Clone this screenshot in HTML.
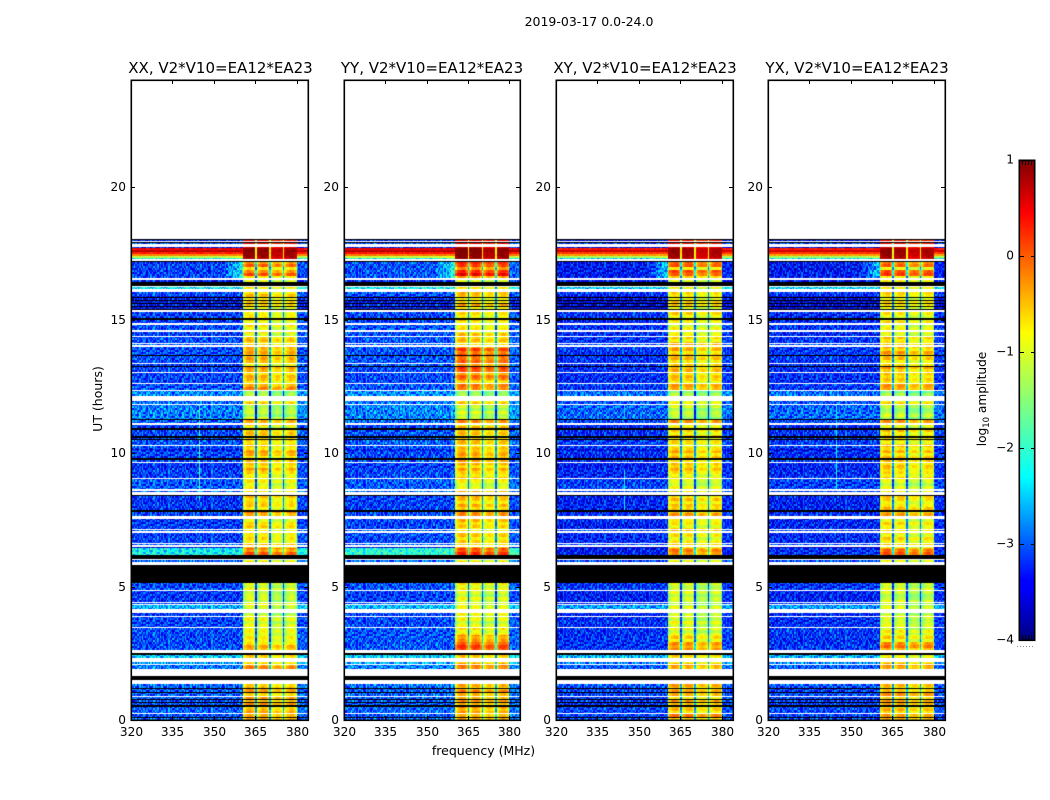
<!DOCTYPE html>
<html>
<head>
<meta charset="utf-8">
<title>2019-03-17 spectrogram</title>
<style>
  html,body{margin:0;padding:0;background:#fff;}
  #stage{position:relative;width:1050px;height:800px;overflow:hidden;background:#fff;}
  canvas,svg{position:absolute;left:0;top:0;}
  text{font-family:"DejaVu Sans","Liberation Sans",sans-serif;fill:#000;}
</style>
</head>
<body>
<div id="stage">
  <canvas id="heat" width="1050" height="800"></canvas>
  <svg id="axes" width="1050" height="800" viewBox="0 0 1050 800">
    <defs>
      <linearGradient id="jetGrad" x1="0" y1="1" x2="0" y2="0">
        <stop offset="0" stop-color="rgb(0,0,128)"/>
        <stop offset="0.11" stop-color="rgb(0,0,255)"/>
        <stop offset="0.125" stop-color="rgb(0,0,255)"/>
        <stop offset="0.34" stop-color="rgb(0,255,255)"/>
        <stop offset="0.64" stop-color="rgb(255,255,0)"/>
        <stop offset="0.89" stop-color="rgb(255,0,0)"/>
        <stop offset="1" stop-color="rgb(128,0,0)"/>
      </linearGradient>
    </defs>
    <text x="589" y="26" text-anchor="middle" font-size="12.5">2019-03-17 0.0-24.0</text>
    <text x="220.5" y="73" text-anchor="middle" font-size="15">XX, V2*V10=EA12*EA23</text>
    <text x="432" y="73" text-anchor="middle" font-size="15">YY, V2*V10=EA12*EA23</text>
    <text x="645" y="73" text-anchor="middle" font-size="15">XY, V2*V10=EA12*EA23</text>
    <text x="857" y="73" text-anchor="middle" font-size="15">YX, V2*V10=EA12*EA23</text>
    <text x="483.5" y="755" text-anchor="middle" font-size="12.5">frequency (MHz)</text>
    <text transform="translate(102,399) rotate(-90)" text-anchor="middle" font-size="12.5">UT (hours)</text>
    <text transform="translate(986,399) rotate(-90)" text-anchor="middle" font-size="12.15">log<tspan font-size="8.5" dy="3">10</tspan><tspan dy="-3"> amplitude</tspan></text>
    <rect x="1019.3" y="160.3" width="15.4" height="480" fill="url(#jetGrad)" stroke="#000" stroke-width="1.6"/>
    <line x1="1017" y1="646.5" x2="1035" y2="646.5" stroke="#888" stroke-width="1" stroke-dasharray="1 2"/>
  </svg>
</div>
<script>
// ---- Chart data ----
// Time axis: samples of 0.0375 h. Baseline levels are log10 amplitude for the XX panel.
const W = 'white';   // flagged, no data drawn
const K = 'black';   // below colour-scale minimum
const polarizations = ['XX', 'YY', 'XY', 'YX'];
const freqTicks = [320, 335, 350, 365, 380];
const hourTicks = [0, 5, 10, 15, 20];
const colorTicks = [1, 0, -1, -2, -3, -4];
// [first sample, last sample, continuum level | flag, band level, edge ramp]
const timeRuns = [
  [0,2,-3.0,-.55],[2,3,K],[3,6,-3.05,-.35],[6,7,W],[7,13,-3.0,-.6],[13,15,K],[15,17,-3.05,-.45],[17,18,K],
  [18,20,-3.05,-.5],[20,21,K],[21,23,-3.05,-.6],[23,24,W],[24,27,-3.0,-.5],[27,28,K],[28,31,-3.05,-.45],[31,32,K],
  [32,36,-2.95,-.55],[36,40,W],[40,44,K],[44,51,W],[51,55,-2.9,-.45],[55,56,W],[56,58,-2.7,-.65],[58,62,W],
  [62,65,-2.5,-.8],[65,67,K],[67,70,W],[70,78,-3.1,-.55],[78,92,-3.1,-.95],[92,93,W],[93,103,-3.15,-1.05],
  [103,104,W],[104,107,-3.2,-1.1],[107,111,W],[111,115,-2.6,-1.1],[115,116,W],[116,117,-3.1,-1.1],[117,118,W],
  [118,129,-3.2,-1.15],[129,130,W],[130,137,-3.1,-1.05],[137,155,K],[155,158,W],[158,160,-3,-.9],[160,161,W],
  [161,165,K],[165,172,-2.25,-.15],[172,173,-3.6,-.7],[173,175,W],[175,176,-3,-.7],[176,177,W],
  [177,187,-3.15,-.8],[187,189,W],[189,190,-3,-.7],[190,191,W],[191,201,-3.2,-.8],[201,204,W],[204,208,-3.15,-.45],
  [208,210,K],[210,224,-3.2,-.7],[224,225,K],[225,228,W],[228,229,-3,-.8],[229,231,W],[231,241,-3.05,-1.0],
  [241,242,W],[242,250,-3.15,-.75],[250,257,-3.2,-.6],[257,258,W],[258,260,-3.1,-.7],[260,262,K],[262,269,-3.15,-.55],
  [269,271,-3.4,-.7],[271,274,-3.1,-.7],[274,275,W],[275,280,-3.05,-.75],[280,281,K],[281,282,-3.1,-.8],[282,284,K],
  [284,290,-3.1,-.7],[290,292,K],[292,295,-3.2,-.8],[295,297,W],[297,300,-3,-.45],[300,301,K],[301,315,-2.85,-1.25],
  [315,316,W],[316,319,-2.95,-.8],[319,324,W],[324,329,-2.8,-1.4],[329,330,W],[330,336,-3.1,-.45],[336,337,W],
  [337,347,-3.15,-.65],[347,348,W],[348,353,-3.15,-.5],[353,354,K],[354,356,-3.1,-.7],[356,357,W],[357,364,-3.1,-.6],
  [364,365,K],[365,373,-3.1,-.5],[373,375,W],[375,376,-3,-.6],[376,377,W],[377,383,-3.1,-.7],[383,384,W],
  [384,388,-3.15,-.85],[388,390,W],[390,395,-3.1,-.95],[395,397,W],[397,400,-3.2,-.85],[400,402,K],[402,408,-3.15,-.8],
  [408,410,W],[410,411,K],[411,413,-3.4,-.8],[413,414,K],[414,416,-3.35,-.7],[416,417,K],[417,419,-3.4,-.75],
  [419,420,K],[420,422,-3.3,-.75],[422,423,K],[423,424,-3.4,-.8],[424,428,-3.1,-.75],[428,431,W],[431,433,-2.3,-.8],
  [433,434,W],[434,438,K],[438,440,-3.3,-.9],[440,442,W],[442,444,-3.15,-.8,.9],[444,450,-3.15,-.1,1],
  [450,453,-3.15,-.8,.9],[453,458,-3.15,-.25,.9],[458,459,K],[459,461,W],[461,462,-2.2,.75,.3],[462,464,-1.2,.85,.3],
  [464,466,-.2,.9],[466,468,.3,.9],[468,470,.75,.95],[470,472,.45,.9],[472,473,-3.4,.6],[473,476,W],[476,477,-3,.4],
  [477,478,K],[478,479,W],[479,480,-3.3,.4],[480,481,K]
];
// [panel index, first sample, last sample, continuum delta, band delta]
const panelAdjust = [
  [1,0,480,.05,.08],[1,70,85,0,.45],[1,340,372,0,.35],[1,442,458,.05,.3],[1,165,172,.15,.1],
  [2,0,480,-.12,-.05],[2,165,172,-1,-.1],[2,70,85,0,.2],[2,442,458,-.1,.1],
  [3,0,480,-.12,-.05],[3,165,172,-.9,0],[3,70,85,0,.25],[3,442,458,-.1,.1]
];
// [panel index, frequency MHz, first sample, last sample, level]
const rfiLines = [
  [0,344.6,220,315,-1.9],[2,344.6,210,250,-2.3],[2,344.6,300,316,-2.4],[3,344.6,230,315,-2.3]
];
// [low MHz, high MHz, level offset]: the four bright sub-bands
const subBands = [[360.5,365,.05],[365.6,370,0],[370.5,375,-.2],[375.6,380,-.05]];
// Level change across one sub-band, low edge to high edge.
const bandShape = [-.4,-.15,0,.1,.15,.15,.1,0,-.25];
// Hand-typed grain, not measured per channel: one digit per cell (tiled).
const grainRows = [
  '4729158360247193856204718395024','1836402957316480295173604827196','6052793148605937214860359127483',
  '3918264075819342607158943026517','7240581936472018395620748139265','2695317048162750934817265039481',
  '5083746291038564172905381647029','9417026583941702658319470265831','3650892174360528917436052817946',
  '8124539607281453960728145396071','0769241853076924185307692418530','4381907265438190726543819072654',
  '7516032849751603284975160328497','2948675103294867510329486751032','6103754928610375492861037549286',
  '1857269340185726934018572693401','5392018476539201847653920184765'
];
// Hand-typed row-to-row ripple across the band, one value per 3 samples (tiled).
const rowRipple = [.1,-.15,.2,.05,-.25,.15,-.05,.25,-.2,.1,0,-.1,.2,-.2,.05,.15,-.1,.25,-.05,-.2,.1,.2,-.15,0,.15,-.25,.05,.2,-.1,.1,-.05];

// ---- Scales ----
const freqMin = 320, freqMax = 384, hourMax = 24;
const plotTop = 80, plotBottom = 720;
const panelLeft = [131, 344, 556, 768];
const panelRight = [308, 520, 733, 945];
const sampleHours = 0.0375, channelMHz = 0.5;
function xOf(p, f) { return panelLeft[p] + (f - freqMin) * (panelRight[p] - panelLeft[p]) / (freqMax - freqMin); }
function yOf(h) { return plotBottom - h * (plotBottom - plotTop) / hourMax; }
const cMin = -4, cMax = 1;
const jetStops = [[0,0,0,128],[.11,0,0,255],[.125,0,0,255],[.34,0,255,255],[.64,255,255,0],[.89,255,0,0],[1,128,0,0]];
function jet(v) {
  const t = Math.max(0, Math.min(1, (v - cMin) / (cMax - cMin)));
  for (let i = 1; i < jetStops.length; i++) {
    const a = jetStops[i - 1], b = jetStops[i];
    if (t <= b[0]) {
      const u = (t - a[0]) / (b[0] - a[0]);
      return 'rgb(' + Math.round(a[1] + (b[1] - a[1]) * u) + ',' + Math.round(a[2] + (b[2] - a[2]) * u) + ',' + Math.round(a[3] + (b[3] - a[3]) * u) + ')';
    }
  }
  return 'rgb(128,0,0)';
}

// ---- Heatmaps ----
function grainAt(p, s, ch) {
  const row = grainRows[(Math.floor(s / 2) + p * 5) % grainRows.length];
  return (Number(row[(ch + p * 11) % row.length]) - 4.5) * 0.12;
}
function cellValue(p, run, s, ch) {
  const f = freqMin + (ch + 0.5) * channelMHz;
  let low = run[2], high = run[3];
  const ramp = run[4] || 0;
  panelAdjust.forEach(function (a) {
    if (a[0] === p && s >= a[1] && s < a[2]) { low += a[3]; high += a[4]; }
  });
  const hot = low > -1.5;
  const ripple = rowRipple[(Math.floor(s / 3) + p * 3) % rowRipple.length];
  for (const line of rfiLines) {
    if (line[0] === p && s >= line[2] && s < line[3] && Math.abs(f - line[1]) < channelMHz / 2 + .01) return line[4];
  }
  if (f < subBands[0][0]) {
    let v = low + grainAt(p, s, ch) * (hot ? .2 : 1) + ripple * .15;
    if (f > 353) v += ramp * (f - 353) / 7.5;
    return v;
  }
  if (f > subBands[3][1]) return low + (hot ? 0 : .1) + grainAt(p, s, ch) * (hot ? .2 : .8);
  const hotBand = high > .3;
  for (const b of subBands) {
    if (f >= b[0] && f <= b[1]) {
      const idx = Math.min(bandShape.length - 1, Math.floor((f - b[0]) / (b[1] - b[0]) * bandShape.length));
      return high + b[2] + (hotBand ? bandShape[idx] * .2 : bandShape[idx] + ripple * .9) + grainAt(p, s, ch) * .2;
    }
  }
  return high - (hotBand ? 1.7 : 2.1) + grainAt(p, s, ch) * .4;
}
const ctx = document.getElementById('heat').getContext('2d');
const channels = Math.round((freqMax - freqMin) / channelMHz);
for (let p = 0; p < polarizations.length; p++) {
  timeRuns.forEach(function (run) {
    for (let s = run[0]; s < run[1]; s++) {
      const yTop = yOf((s + 1) * sampleHours), yBot = yOf(s * sampleHours);
      if (run[2] === W) continue;
      if (run[2] === K) {
        ctx.fillStyle = '#000';
        ctx.fillRect(panelLeft[p], yTop, panelRight[p] - panelLeft[p], yBot - yTop);
        continue;
      }
      for (let ch = 0; ch < channels; ch++) {
        const x0 = Math.round(xOf(p, freqMin + ch * channelMHz));
        const x1 = Math.round(xOf(p, freqMin + (ch + 1) * channelMHz));
        ctx.fillStyle = jet(cellValue(p, run, s, ch));
        ctx.fillRect(x0, yTop, x1 - x0, yBot - yTop);
      }
    }
  });
}

// ---- Axes ----
const svg = document.getElementById('axes');
const NS = 'http://www.w3.org/2000/svg';
function svgLine(x1, y1, x2, y2) {
  const el = document.createElementNS(NS, 'line');
  el.setAttribute('x1', x1);
  el.setAttribute('y1', y1);
  el.setAttribute('x2', x2);
  el.setAttribute('y2', y2);
  el.setAttribute('stroke', '#000');
  el.setAttribute('stroke-width', '1');
  svg.appendChild(el);
  return el;
}
function svgLabel(x, y, anchor, str) {
  const el = document.createElementNS(NS, 'text');
  el.setAttribute('x', x);
  el.setAttribute('y', y);
  el.setAttribute('text-anchor', anchor);
  el.setAttribute('font-size', '12.15');
  el.textContent = str;
  svg.appendChild(el);
  return el;
}
polarizations.forEach(function (pol, p) {
  const L = panelLeft[p], R = panelRight[p];
  const frame = document.createElementNS(NS, 'rect');
  frame.setAttribute('x', L + .3);
  frame.setAttribute('y', plotTop + .3);
  frame.setAttribute('width', R - L);
  frame.setAttribute('height', plotBottom - plotTop);
  frame.setAttribute('fill', 'none');
  frame.setAttribute('stroke', '#000');
  frame.setAttribute('stroke-width', '1.6');
  
  
  svg.appendChild(frame);
  freqTicks.forEach(function (f) {
    const x = Math.round(xOf(p, f)) + .5;
    const tb = svgLine(x, plotBottom, x, plotBottom - 4);
    
    
    const tt = svgLine(x, plotTop, x, plotTop + 4);
    
    
    const lab = svgLabel(x, plotBottom + 16, 'middle', String(f));
    
    
  });
  hourTicks.forEach(function (h) {
    const y = Math.round(yOf(h)) + .5;
    const tl = svgLine(L, y, L + 4, y);
    
    
    const tr = svgLine(R, y, R - 4, y);
    
    
    const lab = svgLabel(L - 5, y + 3.5, 'end', String(h));
    
    
  });
});
function colorY(v) { return 640 - (v - cMin) * 480 / (cMax - cMin); }
colorTicks.forEach(function (v) {
  const y = Math.round(colorY(v)) + .5;
  if (v !== cMax && v !== cMin) {
    const a = svgLine(1020, y, 1024, y);
    
    
    const b = svgLine(1035, y, 1031, y);
    
    
  }
  const lab = svgLabel(1014, y + 3, 'end', String(v).replace('-', '\u2212'));
  
  
});
[1022.5, 1025.5, 1028.5, 1031.5].forEach(function (x) {
  const t = svgLine(x, 160, x, 165);
  
  
  const b = svgLine(x, 640, x, 635);
  
  
});
</script>
</body>
</html>
